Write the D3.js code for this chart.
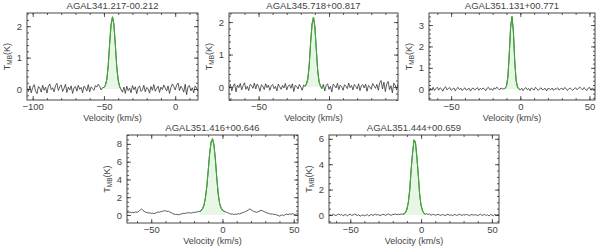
<!DOCTYPE html>
<html>
<head>
<meta charset="utf-8">
<script src="https://cdn.jsdelivr.net/npm/d3@7"></script>
<style>
  body { margin: 0; background: #fff; }
  svg { display: block; }
  .tick text { font-family: "Liberation Sans", Arial, sans-serif; font-size: 9.5px; fill: #444; }
  .tick line { stroke: #333; stroke-width: 0.8; }
</style>
</head>
<body>
<div id="chart"></div>
<script>
// --- Source names (panel titles) ---
const titles = [
  "AGAL341.217-00.212",
  "AGAL345.718+00.817",
  "AGAL351.131+00.771",
  "AGAL351.416+00.646",
  "AGAL351.444+00.659",
];

// First channel velocity (km/s) of each spectrum; channels are 1 km/s wide
const velStart = [-104, -71, -66, -67, -65];
const velStep = 1;

// Axis ranges
const xDomains = [[-104, 16], [-71, 49], [-66, 54], [-67, 53], [-65, 55]];
const yDomains = [[-0.35, 2.42], [-0.4, 2.28], [-0.5, 3.56], [-0.9, 9.0], [-0.63, 6.3]];
const yMajor = [1, 1, 1, 2, 2];
const yMinor = [0.2, 0.2, 0.2, 0.5, 0.5];

// Line window (channels drawn in green) as [first, last] velocity
const lineWindows = [[-50, -38], [-17, -5], [-12, 0], [-16, 2], [-13, 3]];

// --- Spectra: T_MB (K) per channel ---
const spec1 = [
  0.02,-0.08,0.10,-0.12,0.05,0.14,-0.06,-0.15,0.08,0.03,
  -0.10,0.12,-0.04,0.06,-0.13,0.09,0.16,-0.02,0.04,-0.09,
  0.11,0.18,-0.05,0.07,0.13,-0.08,0.02,0.15,-0.11,0.06,
  -0.03,0.10,-0.14,0.04,0.08,-0.07,0.12,-0.01,0.05,-0.12,
  0.09,0.03,-0.06,0.14,-0.09,0.07,0.01,-0.04,0.11,0.06,
  0.15,0.08,-0.03,0.04,
  0.05,0.12,0.30,0.75,1.45,2.05,2.30,2.05,1.40,0.70,0.28,0.08,-0.02,
  -0.10,0.06,-0.14,0.09,-0.05,0.03,-0.12,0.11,-0.02,0.07,
  -0.15,0.04,0.10,-0.08,-0.03,0.12,-0.09,0.05,0.01,-0.13,
  0.08,-0.04,0.14,-0.07,0.02,0.09,-0.11,0.06,-0.02,0.13,
  0.03,-0.06,0.10,-0.14,0.05,0.16,0.08,-0.03,0.12,0.19,
  -0.05,0.09,0.02,-0.10,0.15,-0.18,0.07,0.11,-0.06,0.04,
  -0.12,0.10,0.03,-0.07,
];
const spec2 = [
  -0.05,0.08,-0.12,0.03,0.10,-0.15,0.06,-0.02,0.11,-0.09,
  0.04,0.13,-0.07,0.02,-0.11,0.08,0.05,-0.04,0.12,-0.06,
  0.09,0.01,-0.13,0.07,0.03,-0.08,0.10,-0.02,0.06,-0.10,
  0.04,0.08,-0.05,0.02,-0.12,0.09,0.01,-0.07,0.05,-0.03,
  0.11,-0.09,0.03,0.07,-0.04,0.10,-0.14,0.05,0.02,-0.06,
  0.08,0.00,-0.10,0.06,
  0.02,0.10,0.25,0.70,1.40,1.95,2.15,1.85,1.15,0.50,0.15,0.03,-0.05,
  0.08,-0.12,0.05,0.10,-0.07,0.02,-0.15,0.09,0.04,-0.03,
  0.11,-0.08,0.06,0.01,-0.10,0.07,0.03,-0.05,0.12,-0.02,
  0.05,-0.09,0.08,0.02,-0.06,0.10,-0.11,0.04,0.07,-0.03,
  0.09,-0.13,0.05,0.01,-0.07,0.11,0.03,-0.04,0.08,-0.10,
  0.13,0.20,-0.06,0.15,-0.14,0.09,0.17,-0.08,0.04,-0.18,
  0.12,0.06,-0.09,0.10,
];
const spec3 = [
  -0.08,0.05,-0.02,0.09,-0.06,0.03,0.10,-0.04,0.07,0.02,
  -0.09,0.06,0.12,-0.03,0.04,0.08,-0.05,0.01,0.06,-0.07,
  0.03,0.09,-0.02,0.05,-0.06,0.02,0.07,-0.04,0.00,0.05,
  -0.08,0.03,0.06,-0.03,0.01,0.08,-0.05,0.04,-0.01,0.06,
  0.02,-0.07,0.05,0.09,-0.02,0.03,-0.05,0.07,0.01,0.10,
  0.04,-0.03,0.06,0.02,
  0.02,0.05,0.15,0.55,1.60,2.90,3.40,2.70,1.30,0.40,0.10,0.02,-0.03,
  0.05,-0.06,0.03,0.08,-0.02,0.04,-0.07,0.06,0.01,-0.04,
  0.09,0.02,-0.05,0.03,0.07,-0.03,0.00,0.05,-0.08,0.04,
  0.02,-0.02,0.06,-0.05,0.03,0.01,0.07,-0.04,0.02,0.05,
  -0.03,0.08,0.04,-0.06,0.02,0.06,0.00,-0.05,0.03,0.07,
  -0.02,0.05,0.10,0.04,-0.03,0.08,0.02,-0.06,0.05,0.09,
  -0.04,0.06,0.01,-0.05,
];
const spec4 = [
  0.30,0.28,0.33,0.25,0.31,0.27,0.35,0.30,0.38,0.52,
  0.68,0.55,0.40,0.32,0.28,0.22,0.25,0.18,0.20,0.15,
  0.22,0.28,0.35,0.30,0.42,0.38,0.50,0.46,0.40,0.44,
  0.33,0.25,0.18,0.10,0.05,0.08,0.02,0.06,0.12,0.15,
  0.20,0.18,0.25,0.22,0.28,0.20,0.26,0.32,0.28,0.35,
  0.38,
  0.40,0.50,0.70,1.10,1.90,3.20,5.00,6.90,8.20,8.55,
  7.90,6.30,4.20,2.40,1.30,0.80,0.55,0.45,0.35,
  0.30,0.22,0.15,0.10,0.12,0.05,0.10,0.08,0.14,0.12,
  0.20,0.25,0.30,0.38,0.45,0.55,0.68,0.60,0.48,0.40,
  0.35,0.30,0.38,0.45,0.52,0.48,0.40,0.32,0.25,0.20,
  0.15,0.10,0.12,0.05,0.08,0.00,-0.05,-0.12,-0.05,0.02,
  -0.08,0.05,0.10,0.04,0.12,0.08,0.15,0.10,0.05,0.12,
  0.08,
];
const spec5 = [
  -0.05,0.02,-0.03,0.06,0.00,-0.04,0.03,0.08,-0.02,0.05,
  -0.06,0.01,0.04,-0.08,0.02,0.06,-0.03,0.00,0.07,0.03,
  -0.05,0.02,-0.09,-0.04,0.01,-0.06,-0.02,0.03,-0.07,0.00,
  0.04,-0.03,0.02,0.06,-0.01,0.03,-0.05,0.00,0.05,0.02,
  -0.03,0.04,0.08,0.01,-0.02,0.05,0.03,0.09,0.02,0.06,
  0.04,0.08,
  0.05,0.10,0.20,0.45,1.00,2.00,3.60,4.90,5.90,5.75,
  4.60,3.20,1.60,0.75,0.35,0.15,0.05,
  0.10,0.04,0.07,-0.02,0.03,0.06,-0.04,0.02,0.05,0.00,
  -0.03,0.04,0.01,-0.06,0.03,0.05,-0.02,0.02,-0.05,0.01,
  0.04,-0.03,0.00,0.06,0.02,-0.04,0.03,-0.01,0.05,0.02,
  -0.06,0.01,0.04,-0.02,0.03,0.00,-0.05,0.02,0.06,-0.03,
  0.01,0.04,-0.04,0.02,-0.08,0.03,0.00,-0.06,0.05,-0.02,
  0.04,0.01,
];
const spectra = [spec1, spec2, spec3, spec4, spec5];

// --- Layout (plot box of each panel, in px) ---
const boxes = [
  { x: 27, y: 13, w: 171, h: 87 },
  { x: 229, y: 13, w: 169, h: 87 },
  { x: 429, y: 13, w: 166, h: 87 },
  { x: 127, y: 135, w: 171, h: 88 },
  { x: 329, y: 135, w: 170, h: 88 },
];

const FONT = "'Liberation Sans', Arial, sans-serif";
const INK = "#333";
const TEXT = "#444";
const GREEN = "#3aaa35";
const PALE = "#e8f6e6";

const svg = d3.select("#chart").append("svg").attr("width", 600).attr("height", 246);

function stepTicks(domain, step) {
  const out = [];
  const start = Math.ceil(domain[0] / step - 1e-9);
  for (let k = start; k * step <= domain[1] + 1e-9; k++) out.push(+(k * step).toFixed(6));
  return out;
}

boxes.forEach((b, p) => {
  const g = svg.append("g").attr("transform", `translate(${b.x},${b.y})`);
  const x = d3.scaleLinear().domain(xDomains[p]).range([0, b.w]);
  const y = d3.scaleLinear().domain(yDomains[p]).range([b.h, 0]);

  const data = spectra[p].map((t, i) => ({ v: velStart[p] + i * velStep, t }));
  const win = lineWindows[p];
  const inLine = data.filter((d) => d.v >= win[0] && d.v <= win[1]);

  g.append("clipPath").attr("id", `clip${p}`)
    .append("rect").attr("width", b.w).attr("height", b.h);
  const plot = g.append("g").attr("clip-path", `url(#clip${p})`);

  // pale fill under the line window
  plot.append("path").datum(inLine)
    .attr("fill", PALE)
    .attr("d", d3.area().x((d) => x(d.v)).y0(y(0)).y1((d) => y(d.t)));

  // full spectrum
  plot.append("path").datum(data)
    .attr("fill", "none").attr("stroke", INK).attr("stroke-width", 0.8)
    .attr("d", d3.line().x((d) => x(d.v)).y((d) => y(d.t)));

  // line window in green
  plot.append("path").datum(inLine)
    .attr("fill", "none").attr("stroke", GREEN).attr("stroke-width", 1.1)
    .attr("d", d3.line().x((d) => x(d.v)).y((d) => y(d.t)));

  // axes: inward ticks on all four sides
  const xMaj = stepTicks(xDomains[p], 50);
  const xMin = stepTicks(xDomains[p], 10);
  const yMaj = stepTicks(yDomains[p], yMajor[p]);
  const yMin = stepTicks(yDomains[p], yMinor[p]);

  const addAxis = (axis, tx, ty) => {
    const a = g.append("g").attr("transform", `translate(${tx},${ty})`).call(axis);
    a.select(".domain").remove();
    return a;
  };

  addAxis(d3.axisBottom(x).tickValues(xMin).tickSize(-2).tickFormat(""), 0, b.h);
  addAxis(d3.axisTop(x).tickValues(xMin).tickSize(-2).tickFormat(""), 0, 0);
  addAxis(d3.axisBottom(x).tickValues(xMaj).tickSize(-4).tickPadding(3).tickFormat((d) => d3.format("")(d).replace("-", "\u2212")), 0, b.h);
  addAxis(d3.axisTop(x).tickValues(xMaj).tickSize(-4).tickFormat(""), 0, 0);

  addAxis(d3.axisLeft(y).tickValues(yMin).tickSize(-2).tickFormat(""), 0, 0);
  addAxis(d3.axisRight(y).tickValues(yMin).tickSize(-2).tickFormat(""), b.w, 0);
  addAxis(d3.axisLeft(y).tickValues(yMaj).tickSize(-4).tickPadding(5).tickFormat(d3.format("d")), 0, 0);
  addAxis(d3.axisRight(y).tickValues(yMaj).tickSize(-4).tickFormat(""), b.w, 0);

  // frame
  g.append("rect").attr("width", b.w).attr("height", b.h)
    .attr("fill", "none").attr("stroke", INK).attr("stroke-width", 0.9);

  // title
  g.append("text").attr("x", b.w / 2).attr("y", -4)
    .attr("text-anchor", "middle").attr("font-family", FONT).attr("font-size", 9.5)
    .attr("fill", TEXT).text(titles[p]);

  // x label
  g.append("text").attr("x", b.w / 2).attr("y", b.h + 21)
    .attr("text-anchor", "middle").attr("font-family", FONT).attr("font-size", 9)
    .attr("fill", TEXT).text("Velocity (km/s)");

  // y label T_MB(K)
  const yl = g.append("text")
    .attr("transform", `translate(${-17},${b.h / 2}) rotate(-90)`)
    .attr("text-anchor", "middle").attr("font-family", FONT).attr("font-size", 9)
    .attr("fill", TEXT);
  yl.append("tspan").text("T");
  yl.append("tspan").attr("font-size", 6.5).attr("dy", 2).text("MB");
  yl.append("tspan").attr("dy", -2).text("(K)");
});
</script>
</body>
</html>
